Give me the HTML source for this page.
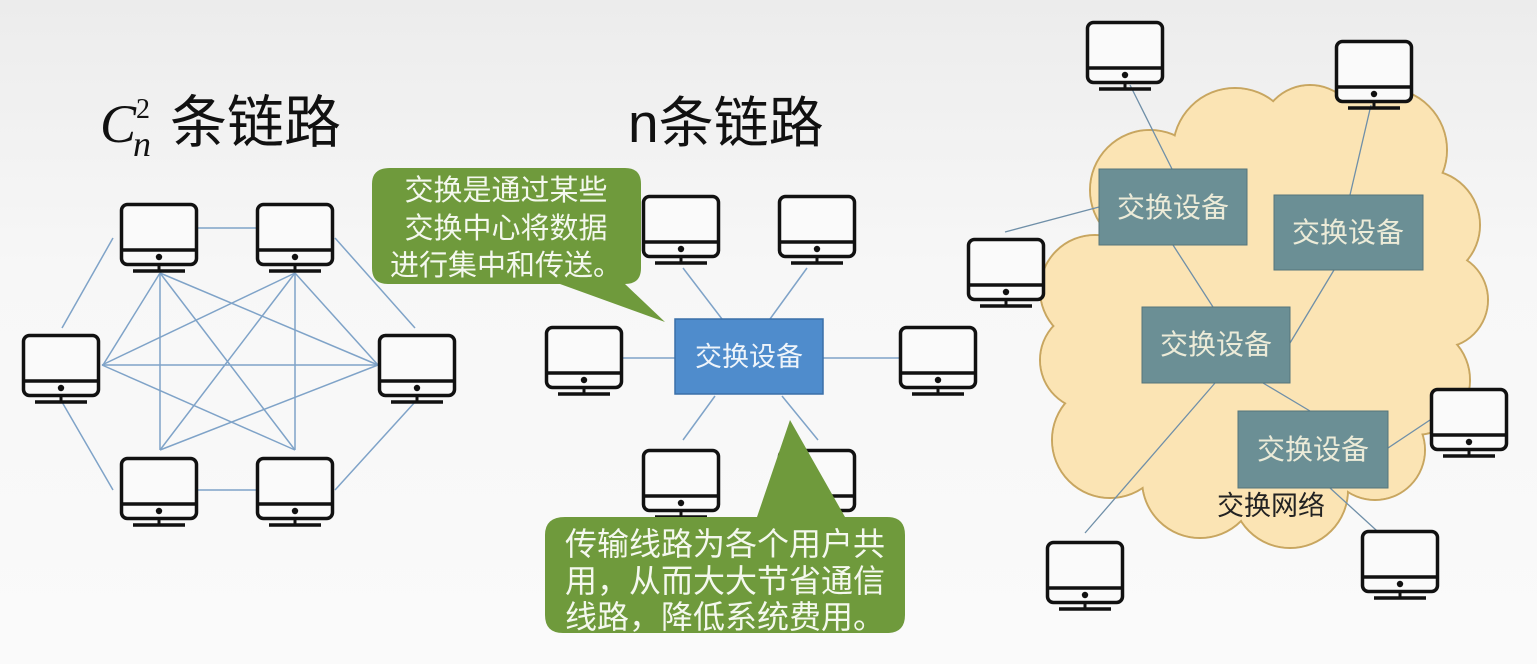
<!DOCTYPE html>
<html><head><meta charset="utf-8"><style>
html,body{margin:0;padding:0;}
body{width:1537px;height:664px;overflow:hidden;background:linear-gradient(#ececec,#f7f7f7 40%,#fafafa);}
svg{display:block;font-family:"Liberation Sans","Noto Sans CJK SC",sans-serif;}
</style></head><body>
<svg width="1537" height="664" viewBox="0 0 1537 664" xmlns="http://www.w3.org/2000/svg">
<defs>
<g id="m">
<rect x="1.5" y="1.5" width="75" height="60" rx="6" fill="#fafafa" stroke="#111" stroke-width="3.5"/>
<line x1="1.5" y1="47" x2="76.5" y2="47" stroke="#111" stroke-width="3.5"/>
<circle cx="39" cy="54" r="3.2" fill="#111"/>
<line x1="39" y1="61" x2="39" y2="67" stroke="#111" stroke-width="3"/>
<line x1="13" y1="68" x2="65" y2="68" stroke="#111" stroke-width="3.5"/>
</g>
</defs>
<!-- mesh lines -->
<g stroke="#7fa3c8" stroke-width="1.5">
<line x1="198" y1="228" x2="256" y2="228"/>
<line x1="198" y1="490" x2="256" y2="490"/>
<line x1="335" y1="238" x2="415" y2="328"/>
<line x1="415" y1="402" x2="335" y2="490"/>
<line x1="113" y1="238" x2="62" y2="328"/>
<line x1="62" y1="402" x2="113" y2="490"/>
<line x1="160" y1="273" x2="295" y2="450"/>
<line x1="295" y1="273" x2="160" y2="450"/>
<line x1="160" y1="273" x2="160" y2="450"/>
<line x1="295" y1="273" x2="295" y2="450"/>
<line x1="160" y1="273" x2="378" y2="365"/>
<line x1="295" y1="273" x2="102" y2="365"/>
<line x1="160" y1="450" x2="378" y2="365"/>
<line x1="295" y1="450" x2="102" y2="365"/>
<line x1="102" y1="365" x2="378" y2="365"/>
<line x1="160" y1="273" x2="103" y2="365"/>
<line x1="295" y1="273" x2="378" y2="365"/>
</g>
<use href="#m" x="120" y="203"/><use href="#m" x="256" y="203"/>
<use href="#m" x="22" y="334"/><use href="#m" x="378" y="334"/>
<use href="#m" x="120" y="457"/><use href="#m" x="256" y="457"/>
<text x="100" y="142" font-family="Liberation Serif,serif" font-style="italic" font-size="54" fill="#111">C</text>
<text x="136" y="118" font-family="Liberation Serif,serif" font-size="28" fill="#111">2</text>
<text x="133" y="156" font-family="Liberation Serif,serif" font-style="italic" font-size="36" fill="#111">n</text>
<text x="170" y="142" font-size="57" fill="#111">条链路</text>
<text x="628" y="142" font-size="55" fill="#111">n条链路</text>

<!-- star -->
<g stroke="#7fa3c8" stroke-width="1.5">
<line x1="683" y1="268" x2="722" y2="319"/>
<line x1="807" y1="268" x2="770" y2="319"/>
<line x1="623" y1="358" x2="675" y2="358"/>
<line x1="823" y1="358" x2="899" y2="358"/>
<line x1="715" y1="396" x2="683" y2="440"/>
<line x1="782" y1="396" x2="818" y2="440"/>
</g>
<use href="#m" x="642" y="195"/><use href="#m" x="778" y="195"/>
<use href="#m" x="545" y="326"/><use href="#m" x="899" y="326"/>
<use href="#m" x="642" y="449"/><use href="#m" x="778" y="449"/>
<rect x="675" y="319" width="148" height="75" fill="#4f8ccc" stroke="#3a6fa8" stroke-width="1.5"/>
<text x="749" y="366" font-size="27" fill="#eef4fa" text-anchor="middle">交换设备</text>

<!-- callouts -->
<path d="M390 168 H625 Q641 168 641 184 V268 Q641 284 625 284 H625 L665 322 L560 284 H388 Q372 284 372 268 V184 Q372 168 390 168 Z" fill="#6f9a3c"/>
<g font-size="29" fill="#f4f8ee" text-anchor="middle">
<text x="506" y="200">交换是通过某些</text>
<text x="506" y="238">交换中心将数据</text>
<text x="506" y="275">进行集中和传送。</text>
</g>
<path d="M565 517 H757 L790 420 L845 517 H887 Q905 517 905 535 V615 Q905 633 887 633 H563 Q545 633 545 615 V535 Q545 517 565 517 Z" fill="#6f9a3c"/>
<g font-size="32" fill="#f4f8ee" text-anchor="middle">
<text x="725" y="555">传输线路为各个用户共</text>
<text x="725" y="592">用，从而大大节省通信</text>
<text x="725" y="628">线路，降低系统费用。</text>
</g>

<!-- cloud -->
<g fill="#fbe4b4" stroke="#c8a660" stroke-width="2">
<circle cx="1150" cy="190" r="60"/><circle cx="1235" cy="150" r="62"/>
<circle cx="1310" cy="135" r="50"/><circle cx="1385" cy="150" r="62"/>
<circle cx="1425" cy="225" r="55"/><circle cx="1440" cy="300" r="48"/>
<circle cx="1415" cy="380" r="55"/><circle cx="1375" cy="450" r="50"/>
<circle cx="1290" cy="490" r="58"/><circle cx="1200" cy="480" r="58"/>
<circle cx="1110" cy="440" r="58"/><circle cx="1090" cy="360" r="50"/>
<circle cx="1095" cy="290" r="55"/>
</g>
<g fill="#fbe4b4">
<circle cx="1150" cy="190" r="59"/><circle cx="1235" cy="150" r="61"/>
<circle cx="1310" cy="135" r="49"/><circle cx="1385" cy="150" r="61"/>
<circle cx="1425" cy="225" r="54"/><circle cx="1440" cy="300" r="47"/>
<circle cx="1415" cy="380" r="54"/><circle cx="1375" cy="450" r="49"/>
<circle cx="1290" cy="490" r="57"/><circle cx="1200" cy="480" r="57"/>
<circle cx="1110" cy="440" r="57"/><circle cx="1090" cy="360" r="49"/>
<circle cx="1095" cy="290" r="54"/>
<circle cx="1260" cy="320" r="175"/>
</g>
<g stroke="#6f8fa8" stroke-width="1.3">
<line x1="1130" y1="85" x2="1172" y2="169"/>
<line x1="1371" y1="105" x2="1350" y2="195"/>
<line x1="1005" y1="232" x2="1099" y2="207"/>
<line x1="1173" y1="245" x2="1213" y2="307"/>
<line x1="1334" y1="270" x2="1290" y2="343"/>
<line x1="1263" y1="383" x2="1310" y2="411"/>
<line x1="1215" y1="383" x2="1085" y2="533"/>
<line x1="1388" y1="448" x2="1430" y2="420"/>
<line x1="1330" y1="488" x2="1387" y2="540"/>
</g>
<use href="#m" x="1086" y="21"/><use href="#m" x="1335" y="40"/>
<use href="#m" x="967" y="238"/><use href="#m" x="1430" y="388"/>
<use href="#m" x="1046" y="541"/><use href="#m" x="1361" y="530"/>
<g fill="#6b8f95" stroke="#55757a" stroke-width="1">
<rect x="1099" y="169" width="148" height="76"/>
<rect x="1274" y="195" width="149" height="75"/>
<rect x="1142" y="307" width="148" height="76"/>
<rect x="1238" y="411" width="150" height="77"/>
</g>
<g font-size="28" fill="#ecebd8" text-anchor="middle">
<text x="1173" y="217">交换设备</text>
<text x="1348" y="242">交换设备</text>
<text x="1216" y="354">交换设备</text>
<text x="1313" y="459">交换设备</text>
</g>
<text x="1271" y="515" font-size="27" fill="#222" text-anchor="middle">交换网络</text>
</svg>
</body></html>
